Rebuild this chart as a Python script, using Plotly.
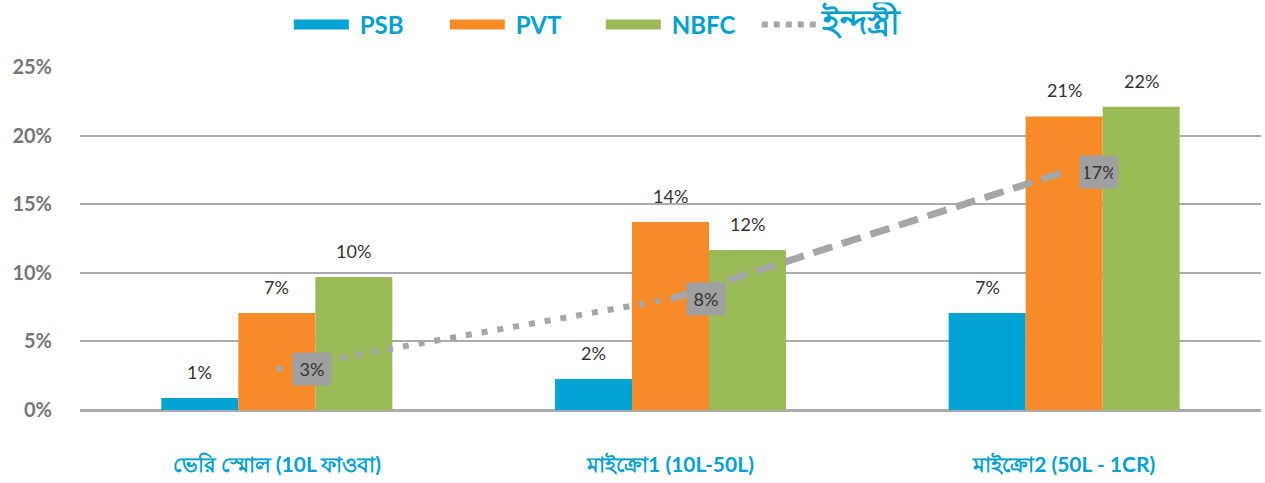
import plotly.graph_objects as go

categories = ["ভেরি স্মোল (10L ফাওবা)", "মাইক্রো1 (10L-50L)", "মাইক্রো2 (50L - 1CR)"]
series_names = ["PSB", "PVT", "NBFC"]
psb = [0.0087, 0.0226, 0.0707]
pvt = [0.0707, 0.137, 0.214]
nbfc = [0.097, 0.1166, 0.221]
industry = [0.0299, 0.081, 0.1735]
industry_name = "ইন্দস্ত্রী"
y_ticks = [0, 0.05, 0.10, 0.15, 0.20, 0.25]
y_ticktext = ["0%", "5%", "10%", "15%", "20%", "25%"]

colors = ["#00A3D1", "#F68B28", "#9BBB59"]
gray = "#A6A6A6"
blue_text = "#00A0D1"
LAT = "Lato, 'Open Sans', 'Noto Sans CJK SC', sans-serif"

BARGAP = 0.413
bw = (1 - BARGAP) / 3
SP = "&nbsp;"

fig = go.Figure()
series = [psb, pvt, nbfc]
for name, vals, col in zip(series_names, series, colors):
    fig.add_trace(go.Bar(x=categories, y=vals, name=name, marker_color=col,
                         marker_line_width=0, showlegend=False, hoverinfo="skip"))

# industry line: dotted first segment, dashed second
fig.add_trace(go.Scatter(x=categories[:2], y=industry[:2], mode="lines",
                         line=dict(color=gray, width=6, dash="6px,10px"),
                         showlegend=False, hoverinfo="skip"))
fig.add_trace(go.Scatter(x=categories[1:], y=industry[1:], mode="lines",
                         line=dict(color=gray, width=7, dash="20px,10px"),
                         showlegend=False, hoverinfo="skip"))

# legend entries
for name, col in zip(series_names, colors):
    fig.add_trace(go.Scatter(x=[None], y=[None], mode="lines", name=SP + name,
                             line=dict(color=col, width=13)))
fig.add_trace(go.Scatter(x=[None], y=[None], mode="lines",
                         name=f"<span style='font-size:34px'>{industry_name}</span>",
                         line=dict(color=gray, width=6, dash="6px,6px")))

annotations = []
for si, vals in enumerate(series):
    for ci, v in enumerate(vals):
        annotations.append(dict(x=ci + (si - 1) * bw, y=v, xref="x", yref="y",
                                text=f"{round(v * 100)}%", showarrow=False,
                                yanchor="middle", yshift=26,
                                font=dict(family=LAT, size=18, color="#333333")))
for ci, v in enumerate(industry):
    annotations.append(dict(x=ci, y=v, xref="x", yref="y", text=f"{round(v * 100)}%",
                            showarrow=False, xshift=35, yanchor="middle",
                            bgcolor="#A0A0A0", borderpad=5, width=28,
                            font=dict(family=LAT, size=18, color="#333333")))

fig.update_layout(
    width=1265, height=483,
    margin=dict(l=80, r=4, t=67, b=73),
    plot_bgcolor="white", paper_bgcolor="white",
    barmode="group", bargap=BARGAP, bargroupgap=0,
    annotations=annotations,
    legend=dict(orientation="h", x=0.441, xanchor="center", xref="paper",
                y=0.995, yanchor="top", yref="container",
                itemwidth=55, traceorder="normal", entrywidth=86,
                font=dict(family=LAT, size=24, color=blue_text, weight="bold")),
    xaxis=dict(type="category", range=[-0.5, 2.5], showgrid=False,
               tickfont=dict(family=LAT, size=21, color=blue_text, weight="bold"),
               ticks="", showline=False, ticklabelstandoff=40),
    yaxis=dict(range=[0, 0.25], tickvals=y_ticks, ticktext=y_ticktext,
               showgrid=True, gridcolor="#ABABAB", gridwidth=1.5,
               zeroline=True, zerolinecolor="#ABABAB", zerolinewidth=2.5,
               tickfont=dict(family=LAT, size=20, color="#767676", weight="bold"),
               ticklabelstandoff=27, showline=False),
)

fig.write_html("out.html", config={"displayModeBar": False},
               post_script="document.body.style.margin='0';")
